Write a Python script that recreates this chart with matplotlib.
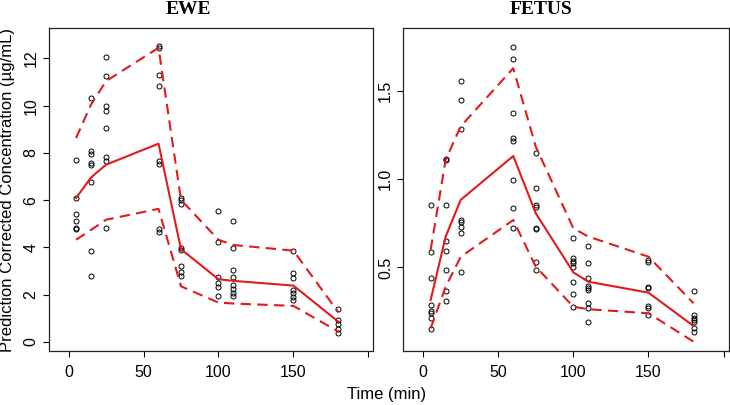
import matplotlib
matplotlib.use("Agg")
import matplotlib.pyplot as plt

# sampling times (min)
times = [5, 15, 25, 60, 75, 100, 110, 150, 180]

# observed prediction-corrected concentrations, EWE
ewe_obs = {
    5: [7.68, 6.09, 5.41, 5.12, 4.81, 4.78],
    15: [10.33, 8.07, 7.97, 7.57, 7.49, 6.75, 3.86, 2.79],
    25: [12.07, 11.25, 10.0, 9.76, 9.06, 7.83, 7.66, 4.81],
    60: [12.52, 12.45, 11.31, 10.82, 7.64, 7.54, 4.77, 4.67],
    75: [6.09, 6.02, 5.84, 3.96, 3.90, 3.23, 2.95, 2.79],
    100: [5.52, 4.24, 2.73, 2.48, 2.33, 1.94],
    110: [5.11, 3.96, 3.04, 2.76, 2.41, 2.22, 2.05, 1.95],
    150: [3.85, 2.90, 2.69, 2.19, 2.05, 1.91, 1.77],
    180: [1.37, 0.92, 0.75, 0.53, 0.38],
}
ewe_median = [6.09, 6.96, 7.5, 8.39, 3.92, 2.65, 2.58, 2.38, 0.85]
ewe_upper = [8.63, 10.05, 11.04, 12.45, 6.01, 4.32, 4.10, 3.86, 1.25]
ewe_lower = [4.32, 4.74, 5.17, 5.63, 2.35, 1.66, 1.62, 1.52, 0.43]

# observed prediction-corrected concentrations, FETUS
fetus_obs = {
    5: [0.854, 0.586, 0.442, 0.287, 0.253, 0.240, 0.215, 0.149],
    15: [1.115, 1.11, 0.854, 0.650, 0.593, 0.486, 0.366, 0.311],
    25: [1.558, 1.448, 1.285, 0.769, 0.759, 0.728, 0.694, 0.472],
    60: [1.749, 1.682, 1.376, 1.233, 1.219, 0.996, 0.839, 0.725],
    75: [1.151, 0.952, 0.854, 0.845, 0.722, 0.718, 0.533, 0.486],
    100: [0.665, 0.552, 0.538, 0.524, 0.504, 0.417, 0.349, 0.277],
    110: [0.622, 0.527, 0.438, 0.396, 0.385, 0.372, 0.300, 0.268, 0.192],
    150: [0.542, 0.533, 0.391, 0.385, 0.281, 0.268, 0.230],
    180: [0.366, 0.230, 0.215, 0.202, 0.189, 0.158, 0.132],
}
fetus_median = [0.315, 0.675, 0.883, 1.132, 0.807, 0.472, 0.419, 0.357, 0.168]
fetus_upper = [0.60, 1.11, 1.30, 1.63, 1.185, 0.722, 0.675, 0.561, 0.297]
fetus_lower = [0.155, 0.39, 0.56, 0.769, 0.504, 0.277, 0.263, 0.240, 0.079]

x_ticks = [0, 50, 100, 150, 200]
x_ticklabels = ["0", "50", "100", "150", ""]
ewe_yticks = [0, 2, 4, 6, 8, 10, 12]
fetus_yticks = [0.5, 1.0, 1.5]

plt.rcParams["font.family"] = ["Liberation Sans", "DejaVu Sans"]

W, H = 730, 405
fig = plt.figure(figsize=(W / 100, H / 100), dpi=100)


def px_axes(left, right, top, bottom):
    return fig.add_axes([left / W, 1 - bottom / H, (right - left) / W, (bottom - top) / H])


def draw_panel(ax, obs, median, upper, lower, ylim, yticks):
    for t, vals in obs.items():
        ax.plot([t] * len(vals), vals, "o", ms=3.6, mfc="none", mec="black", mew=0.7)
    ax.plot(times, median, "-", color="#e31a1c", lw=1.5)
    for band in (upper, lower):
        ax.plot(times, band, "--", color="#e31a1c", lw=1.5, dashes=(5, 3))
    ax.set_xlim(-13.2, 203.3)
    ax.set_ylim(*ylim)
    ax.set_xticks(x_ticks)
    ax.set_xticklabels(x_ticklabels)
    ax.set_yticks(yticks)
    ax.set_yticklabels([f"{v:g}" if isinstance(v, int) else f"{v:.1f}" for v in yticks],
                       rotation=90, va="center")
    ax.tick_params(direction="out", length=4.3, width=0.8, labelsize=11.5, colors="black")
    ax.tick_params(axis="x", pad=6)
    ax.tick_params(axis="y", pad=3)
    for s in ax.spines.values():
        s.set_linewidth(0.9)
        s.set_color("#222222")


ax1 = px_axes(48.8, 373.3, 27.5, 351)
draw_panel(ax1, ewe_obs, ewe_median, ewe_upper, ewe_lower, (-0.39, 13.31), ewe_yticks)

ax2 = px_axes(403.3, 728.5, 27.5, 351)
draw_panel(ax2, fetus_obs, fetus_median, fetus_upper, fetus_lower, (0.026, 1.861), fetus_yticks)

fig.text(188 / W, 1 - 9 / H, "EWE", ha="center", va="center", fontsize=14,
         fontweight="bold", family="Liberation Serif")
fig.text(541 / W, 1 - 9 / H, "FETUS", ha="center", va="center", fontsize=14,
         fontweight="bold", family="Liberation Serif")
fig.text(387 / W, 1 - 395 / H, "Time (min)", ha="center", va="center", fontsize=12)
fig.text(7.5 / W, 1 - 190 / H, "Prediction Corrected Concentration (µg/mL)",
         ha="center", va="center", rotation=90, fontsize=12)

fig.savefig("out.png", dpi=100)
